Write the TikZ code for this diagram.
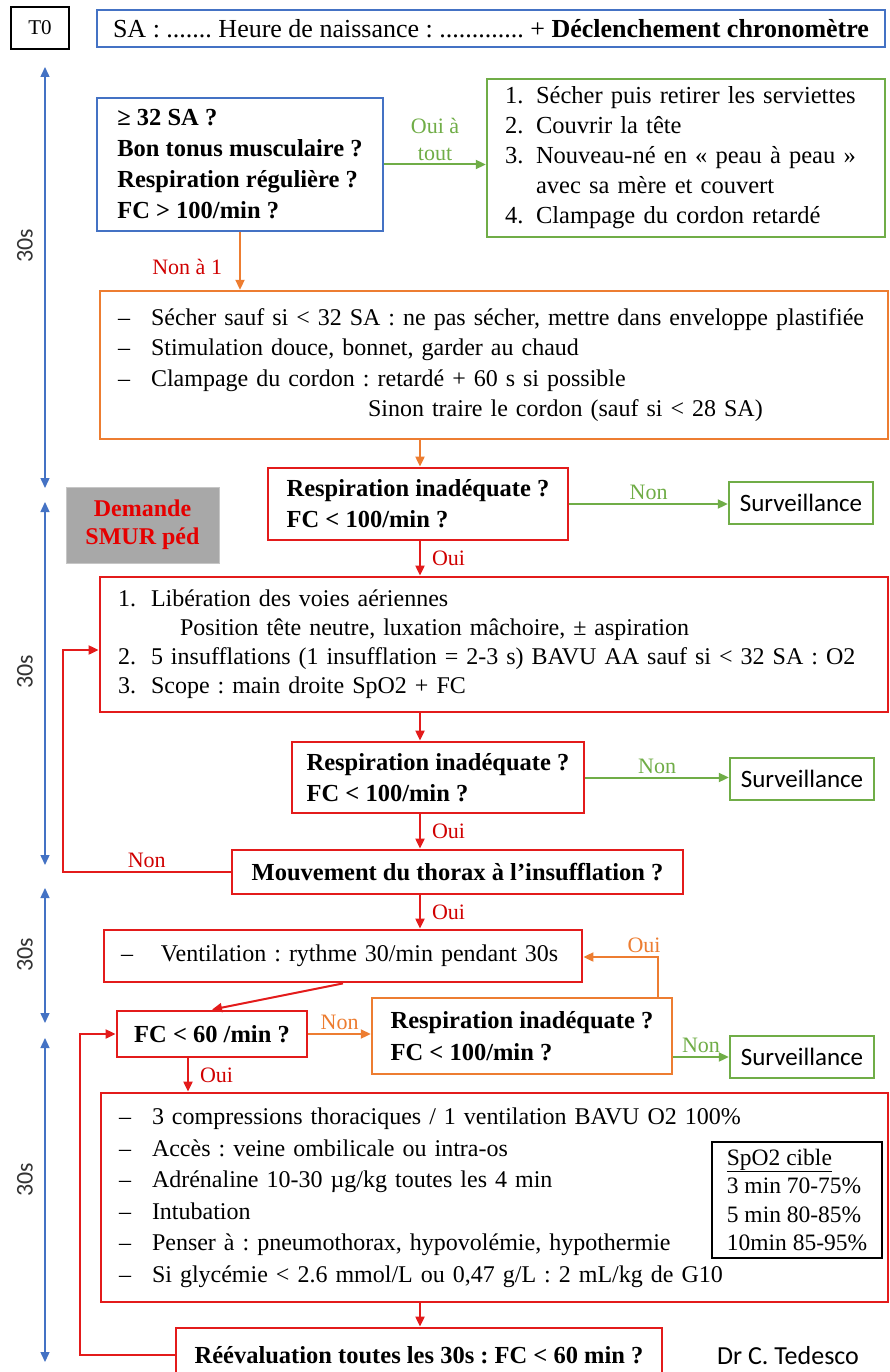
\documentclass[tikz,border=0pt]{standalone}
\usepackage{fontspec}
\setmainfont{Liberation Serif}
\newfontfamily\calibri{Carlito}
\usepackage{tikz}
\usetikzlibrary{arrows.meta, positioning, calc}
\definecolor{bleuOff}{HTML}{4472C4}
\definecolor{vertOff}{HTML}{70AD47}
\definecolor{orangeOff}{HTML}{ED7D31}
\definecolor{rougeCadre}{HTML}{E31B1B}
\definecolor{rougeTxt}{HTML}{D00000}
\definecolor{grisSmur}{HTML}{A8A8A8}
\newcommand{\tiret}{\makebox[33pt][l]{–}}
\newcommand{\numero}[1]{\makebox[33pt][l]{#1.}}
\frenchspacing

\begin{document}
\begin{tikzpicture}[x=1pt, y=-1pt,
  cadre/.style={draw, line width=2.4pt, inner ysep=0pt, font=\fontsize{24}{30}\selectfont},
  question/.style={cadre, draw=rougeCadre, line width=2.8pt, align=left, font=\bfseries\fontsize{24.5}{31}\selectfont},
  liste/.style={cadre, align=left},
  surv/.style={cadre, draw=vertOff, minimum width=144, minimum height=42, font=\calibri\fontsize{25}{30}\selectfont},
  fleche/.style={line width=2pt, -{Triangle[length=10pt, width=9pt]}},
  etiq/.style={font=\fontsize{22}{27}\selectfont, inner sep=3pt},
  duree/.style={font=\calibri\fontsize{24}{28}\selectfont, text=black!80, rotate=90},
  chrono/.style={draw=bleuOff, line width=1.4pt, {Triangle[length=10pt, width=9pt]}-{Triangle[length=10pt, width=9pt]}},
]
\fill[white] (0,0) rectangle (890,1372);
\useasboundingbox (0,0) rectangle (890,1372);

\node[cadre, minimum width=58, minimum height=42, font=\fontsize{21}{25}\selectfont] (t0) at (40,28) {T0};
\node[cadre, draw=bleuOff, minimum width=788, minimum height=37, font=\fontsize{26}{30}\selectfont] (entete) at (491,28.5)
  {SA : ....... Heure de naissance : ............. + \textbf{Déclenchement chronomètre}};

\node[question, draw=bleuOff, line width=2.4pt, minimum width=286, minimum height=133] (criteres) at (240,164.5)
  {≥ 32 SA ?\\Bon tonus musculaire ?\\Respiration régulière ?\\FC > 100/min ?};
\node[liste, draw=vertOff, minimum width=398, minimum height=158, text width=362pt, inner xsep=18pt, font=\fontsize{24.5}{30}\selectfont] (peau) at (686,158)
  {\makebox[31pt][l]{1.}Sécher puis retirer les serviettes\\
   \makebox[31pt][l]{2.}Couvrir la tête\\
   \makebox[31pt][l]{3.}Nouveau-né en « peau à peau »\\
   \hspace*{31pt}avec sa mère et couvert\\
   \makebox[31pt][l]{4.}Clampage du cordon retardé};

\node[liste, draw=orangeOff, minimum width=788, minimum height=148, text width=752pt, inner xsep=18pt, font=\fontsize{24}{30.5}\selectfont] (secher) at (494,365)
  {\tiret Sécher sauf si < 32 SA : ne pas sécher, mettre dans enveloppe plastifiée\\
   \tiret Stimulation douce, bonnet, garder au chaud\\
   \tiret Clampage du cordon : retardé + 60 s si possible\\
   \hspace*{250pt}Sinon traire le cordon (sauf si < 28 SA)};

\node[question, minimum width=300, minimum height=72] (resp1) at (418,504) {Respiration inadéquate ?\\FC < 100/min ?};
\node[surv] (surv1) at (801,503) {Surveillance};
\node[cadre, draw=gray!45, line width=1pt, fill=grisSmur, minimum width=153, minimum height=76, align=center, text=red!90!black, font=\bfseries\fontsize{24}{28}\selectfont] (smur) at (142.5,525) {Demande\\SMUR péd};

\node[liste, draw=rougeCadre, line width=2.8pt, minimum width=788, minimum height=135, text width=752pt, inner xsep=18pt, font=\fontsize{24}{29}\selectfont] (libere) at (494,644.5)
  {\numero{1}Libération des voies aériennes\\
   \hspace*{62pt}Position tête neutre, luxation mâchoire, ± aspiration\\
   \numero{2}5 insufflations (1 insufflation = 2-3 s) BAVU AA sauf si < 32 SA : O2\\
   \numero{3}Scope : main droite SpO2 + FC};

\node[question, minimum width=292, minimum height=71] (resp2) at (438,777.5) {Respiration inadéquate ?\\FC < 100/min ?};
\node[surv] (surv2) at (802,779) {Surveillance};
\node[question, minimum width=451, minimum height=44] (mouvement) at (457.5,872) {Mouvement du thorax à l’insufflation ?};

\node[liste, draw=rougeCadre, line width=2.8pt, minimum width=478, minimum height=52, text width=444pt, inner xsep=17pt] (ventil) at (343,956)
  {\makebox[40pt][l]{–}Ventilation : rythme 30/min pendant 30s};
\node[question, minimum width=190, minimum height=46] (fc60) at (212,1034) {FC < 60 /min ?};
\node[question, draw=orangeOff, line width=2.4pt, minimum width=300, minimum height=76, font=\bfseries\fontsize{24.5}{32}\selectfont] (resp3) at (522,1036) {Respiration inadéquate ?\\FC < 100/min ?};
\node[surv] (surv3) at (802,1057) {Surveillance};

\node[liste, draw=rougeCadre, line width=2.8pt, minimum width=787, minimum height=209, text width=751pt, inner xsep=18pt, font=\fontsize{24}{31.5}\selectfont] (compress) at (494.5,1197.5)
  {\tiret 3 compressions thoraciques / 1 ventilation BAVU O2 100\%\\
   \tiret Accès : veine ombilicale ou intra-os\\
   \tiret Adrénaline 10-30 µg/kg toutes les 4 min\\
   \tiret Intubation\\
   \tiret Penser à : pneumothorax, hypovolémie, hypothermie\\
   \tiret Si glycémie < 2.6 mmol/L ou 0,47 g/L : 2 mL/kg de G10};
\node[cadre, line width=1.6pt, minimum width=170, minimum height=116, align=left, font=\fontsize{23.5}{28.5}\selectfont] (cible) at (797,1200)
  {\underline{SpO2 cible}\\3 min 70-75\%\\5 min 80-85\%\\10min 85-95\%};
\node[question, minimum width=486, minimum height=54] (reeval) at (419,1355) {Réévaluation toutes les 30s : FC < 60 min ?};
\node[font=\calibri\fontsize{26}{30}\selectfont] (auteur) at (788,1356) {Dr C. Tedesco};

\coordinate (axe) at (420,0);
\coordinate (retour1) at (63,650);
\coordinate (retour2) at (80,1034);
\coordinate (coinOui) at (658,957);

\draw[fleche, vertOff] (criteres.east) -- node[etiq, above, align=center, text=vertOff] {Oui à\\tout} (criteres.east -| peau.west);
\draw[fleche, orangeOff] (criteres.south) -- node[etiq, left=14pt, pos=.6, text=rougeTxt] {Non à 1} (criteres.south |- secher.north);
\draw[fleche, orangeOff] (axe |- secher.south) -- (axe |- resp1.north);
\draw[fleche, vertOff] (resp1.east) -- node[etiq, above, text=vertOff] {Non} (resp1.east -| surv1.west);
\draw[fleche, rougeCadre] (axe |- resp1.south) -- node[etiq, right=8pt, text=rougeTxt] {Oui} (axe |- libere.north);
\draw[fleche, rougeCadre] (axe |- libere.south) -- (axe |- resp2.north);
\draw[fleche, vertOff] (resp2.east) -- node[etiq, above, text=vertOff] {Non} (resp2.east -| surv2.west);
\draw[fleche, rougeCadre] (axe |- resp2.south) -- node[etiq, right=8pt, text=rougeTxt] {Oui} (axe |- mouvement.north);
\draw[fleche, rougeCadre] (mouvement.west) -| node[etiq, pos=.25, above, text=rougeTxt] {Non} (retour1) -- (retour1 -| libere.west);
\draw[fleche, rougeCadre] (axe |- mouvement.south) -- node[etiq, right=8pt, text=rougeTxt] {Oui} (axe |- ventil.north);
\draw[fleche, rougeCadre] (ventil.south) -- (fc60.north);
\draw[fleche, orangeOff] (fc60.east) -- node[etiq, above, text=orangeOff] {Non} (fc60.east -| resp3.west);
\draw[fleche, orangeOff] (resp3.north -| coinOui) -- (coinOui) node[etiq, above, xshift=-14pt, text=orangeOff] {Oui} -- (coinOui -| ventil.east);
\draw[fleche, vertOff] (resp3.east |- surv3.west) -- node[etiq, above, text=vertOff] {Non} (surv3.west);
\draw[fleche, rougeCadre] ([xshift=-24pt]fc60.south) -- node[etiq, right=8pt, text=rougeTxt] {Oui} ([xshift=-24pt]fc60.south |- compress.north);
\draw[fleche, rougeCadre] (axe |- compress.south) -- (axe |- reeval.north);
\draw[fleche, rougeCadre] (reeval.west) -| (retour2) -- (fc60.west);

\coordinate (haut1) at (45,67);   \coordinate (bas1) at (45,488);
\coordinate (haut2) at (45,502);  \coordinate (bas2) at (45,865);
\coordinate (haut3) at (45,888);  \coordinate (bas3) at (45,1023);
\coordinate (haut4) at (45,1038); \coordinate (bas4) at (45,1362);
\draw[chrono] (haut1) -- (bas1);
\draw[chrono] (haut2) -- (bas2);
\draw[chrono] (haut3) -- (bas3);
\draw[chrono] (haut4) -- (bas4);
\node[duree] (duree1) at (25,246) {30s};
\node[duree] (duree2) at (25,672) {30s};
\node[duree] (duree3) at (25,955) {30s};
\node[duree] (duree4) at (25,1180) {30s};
\end{tikzpicture}
\end{document}
